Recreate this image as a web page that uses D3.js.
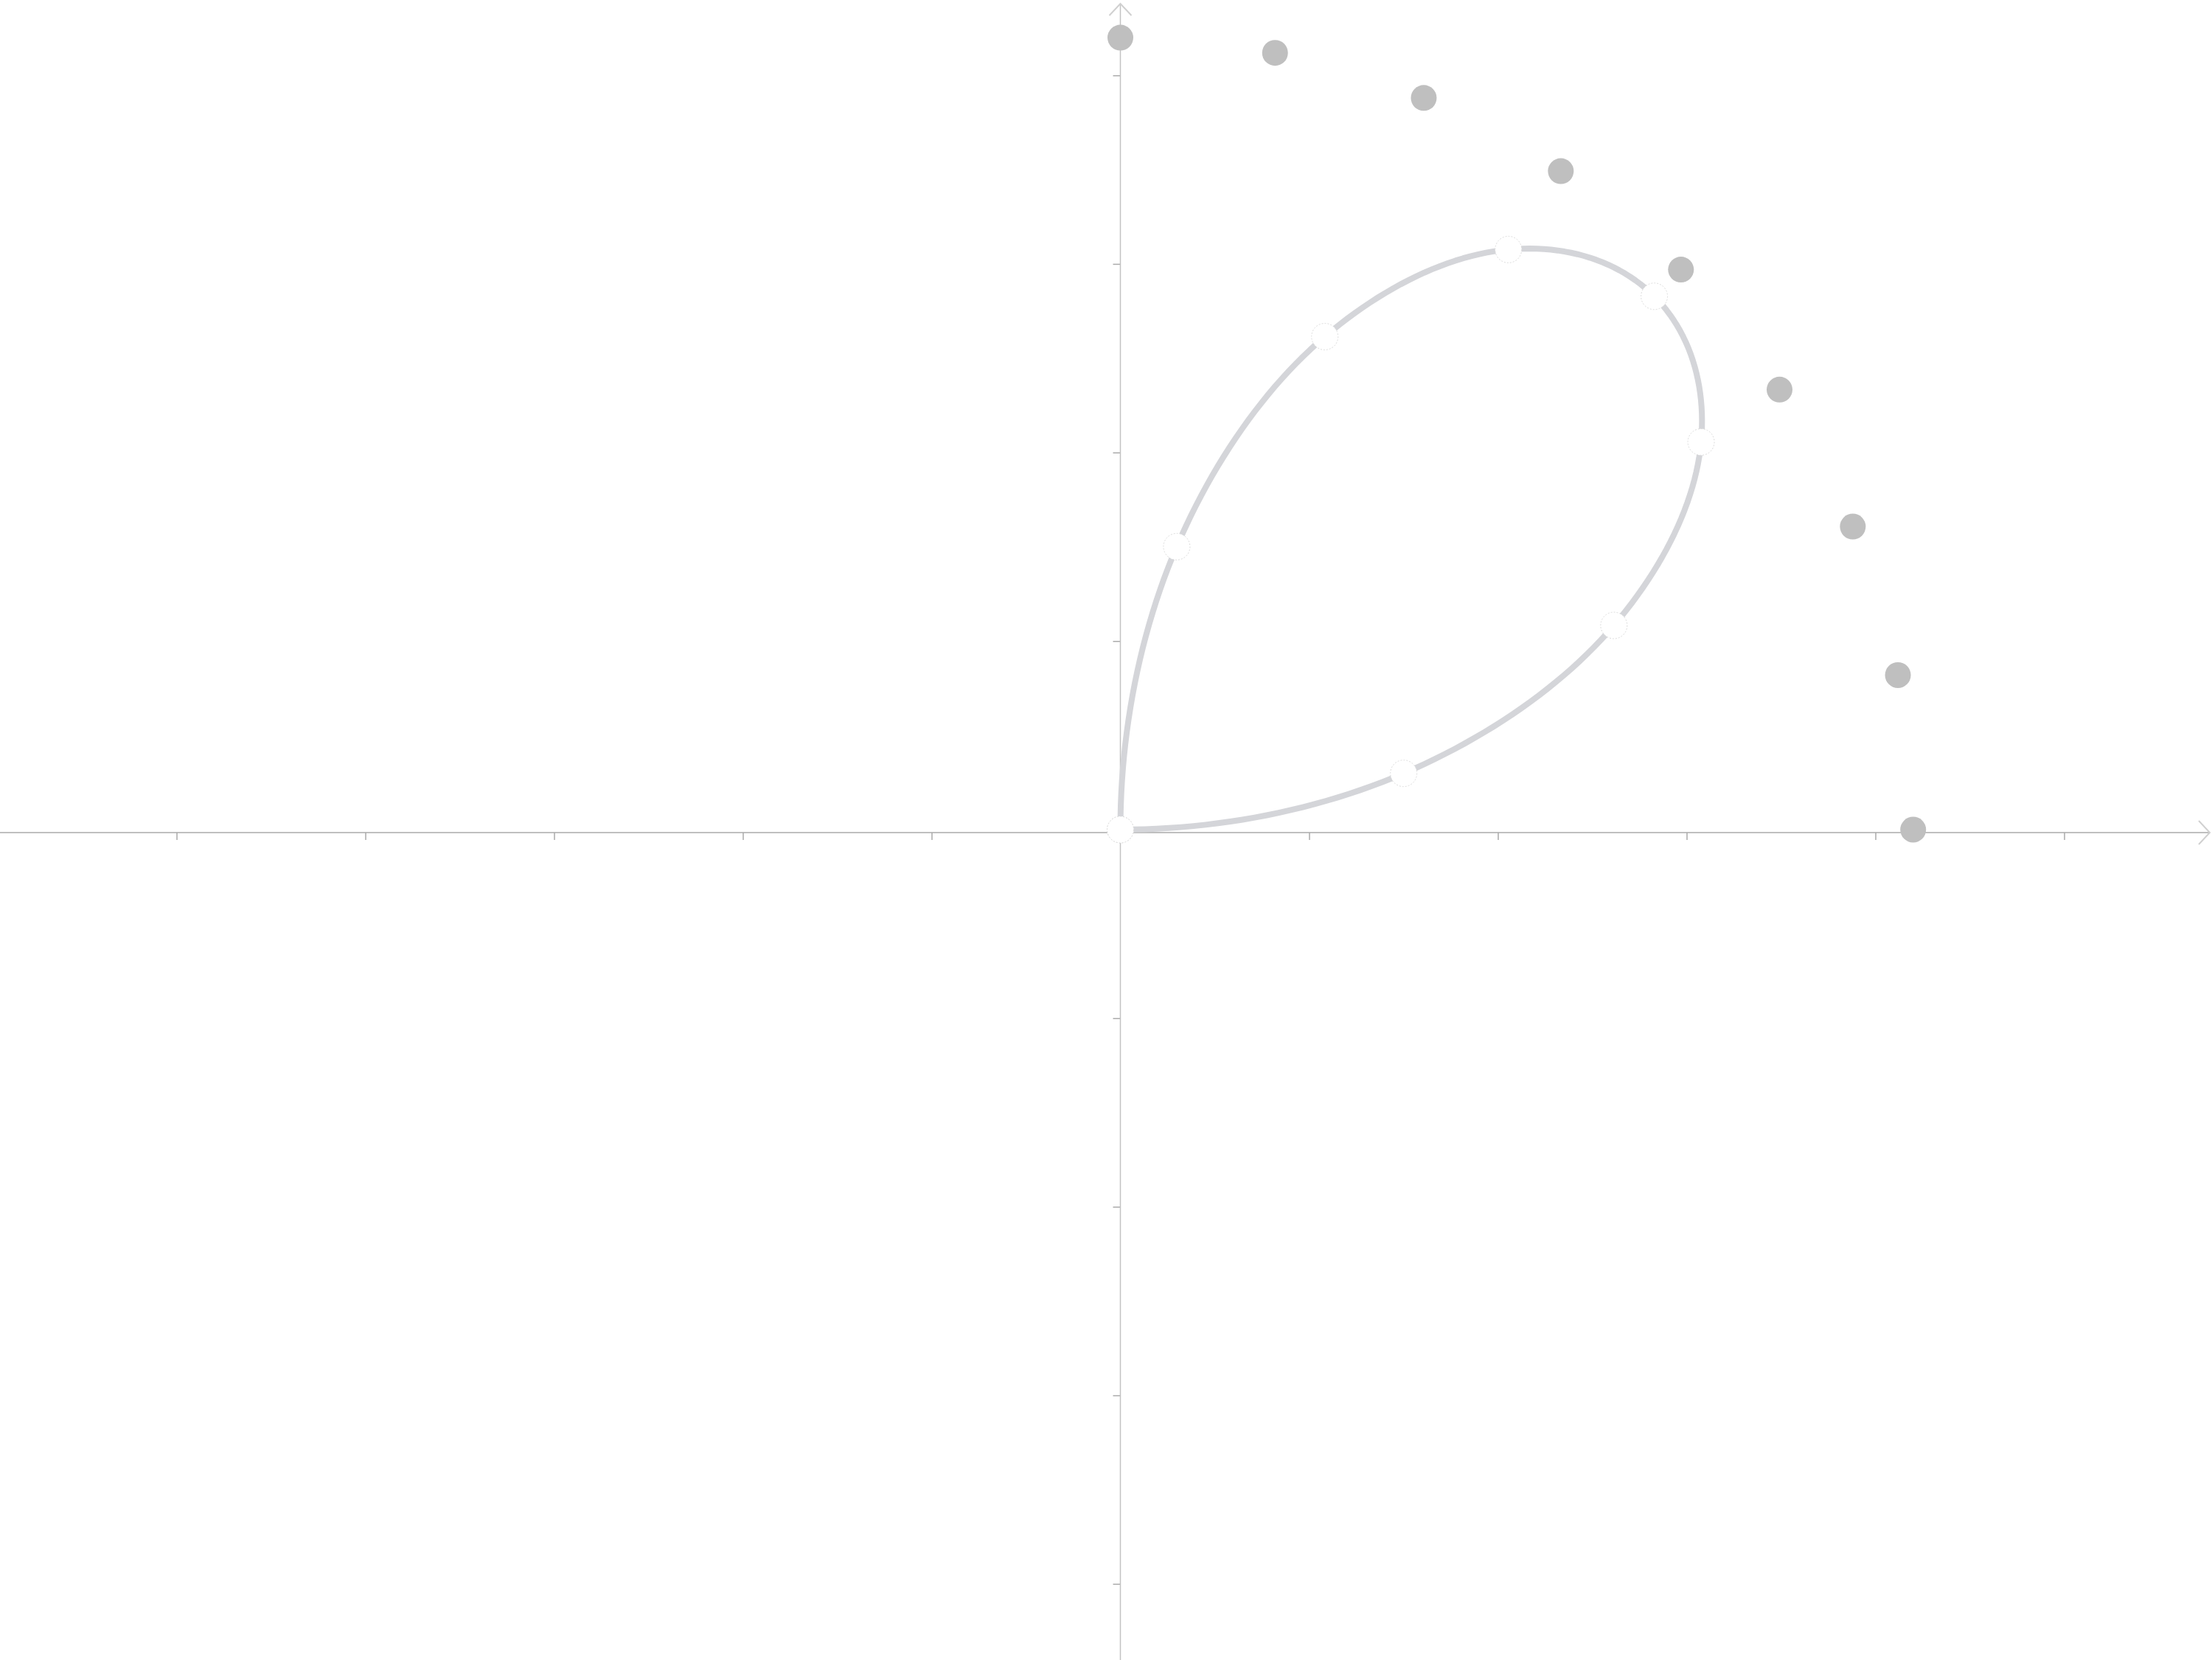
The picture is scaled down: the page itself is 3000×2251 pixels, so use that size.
<!DOCTYPE html>
<html>
<head>
<meta charset="utf-8">
<script src="https://cdn.jsdelivr.net/npm/d3@7"></script>
<style>
  html, body { margin: 0; padding: 0; background: #ffffff; }
  svg { display: block; }
</style>
</head>
<body>
<svg id="chart" width="3000" height="2251"></svg>
<script>
// ---- data ----
const anglesDeg   = [0, 11.25, 22.5, 33.75, 45, 56.25, 67.5, 78.75, 90];
const petalRadius = [0, 1.53, 2.83, 3.70, 4.0, 3.70, 2.83, 1.53, 0];
const outerRadius = [4.2, 4.2, 4.2, 4.2, 4.2, 4.2, 4.2, 4.2, 4.2];
const xTickValues = [-5, -4, -3, -2, -1, 1, 2, 3, 4, 5];
const yTickValues = [-4, -3, -2, -1, 1, 2, 3, 4];

// ---- layout ----
const W = 3000, H = 2251;
const cx = 1519.5, cy = 1125;
const ux = 256, uy = 255.7;
const x = d3.scaleLinear().domain([-6, 6]).range([cx - 6 * ux, cx + 6 * ux]);
const y = d3.scaleLinear().domain([-6, 6]).range([cy + 6 * uy, cy - 6 * uy]);

const svg = d3.select("#chart");
const axisColor = "#aaaaaa";
const axisOffset = 4; // horizontal axis line sits slightly below y = 0 in the reference

// ---- axes ----
const gx = svg.append("g")
  .attr("transform", `translate(0,${y(0) + axisOffset})`)
  .call(d3.axisBottom(x).tickValues(xTickValues).tickSize(10).tickFormat(""));
gx.select(".domain").remove();
gx.selectAll(".tick line").attr("stroke", axisColor).attr("stroke-width", 1.5);

const gy = svg.append("g")
  .attr("transform", `translate(${x(0)},0)`)
  .call(d3.axisLeft(y).tickValues(yTickValues).tickSize(10).tickFormat(""));
gy.select(".domain").remove();
gy.selectAll(".tick line").attr("stroke", axisColor).attr("stroke-width", 1.5);

// axis lines
svg.append("line")
  .attr("x1", 0).attr("x2", W - 3)
  .attr("y1", y(0) + axisOffset).attr("y2", y(0) + axisOffset)
  .attr("stroke", axisColor).attr("stroke-width", 1.5);
svg.append("line")
  .attr("x1", x(0)).attr("x2", x(0))
  .attr("y1", H).attr("y2", 5)
  .attr("stroke", "#c2c2c2").attr("stroke-width", 1.5);

// arrow heads (open chevrons)
const arrowLine = d3.line();
svg.append("path")
  .attr("d", arrowLine([[W - 18, y(0) + axisOffset - 16], [W - 3, y(0) + axisOffset], [W - 18, y(0) + axisOffset + 16]]))
  .attr("fill", "none").attr("stroke", "#d0d0d0").attr("stroke-width", 2);
svg.append("path")
  .attr("d", arrowLine([[x(0) - 15, 21], [x(0), 5], [x(0) + 15, 21]]))
  .attr("fill", "none").attr("stroke", "#d0d0d0").attr("stroke-width", 2);

// ---- data points ----
const toRad = d => d * Math.PI / 180;
const petal = anglesDeg.map((a, i) => ({ a: toRad(a), r: petalRadius[i] }));
const outer = anglesDeg.map((a, i) => ({ a: toRad(a), r: outerRadius[i] }));
const px = d => x(d.r * Math.cos(d.a));
const py = d => y(d.r * Math.sin(d.a));

// smooth petal: Catmull-Rom spline of radius vs. angle (polar smoothing of the 9 readings)
function polarSmooth(pts, steps) {
  const n = pts.length;
  const rAt = i => i < 0 ? -pts[-i].r : (i >= n ? -pts[2 * (n - 1) - i].r : pts[i].r);
  const out = [];
  for (let i = 0; i < n - 1; i++) {
    const p0 = rAt(i - 1), p1 = rAt(i), p2 = rAt(i + 1), p3 = rAt(i + 2);
    for (let s = 0; s < steps; s++) {
      const t = s / steps;
      const r = 0.5 * (2 * p1 + (-p0 + p2) * t + (2 * p0 - 5 * p1 + 4 * p2 - p3) * t * t
                + (-p0 + 3 * p1 - 3 * p2 + p3) * t * t * t);
      out.push({ a: pts[i].a + (pts[i + 1].a - pts[i].a) * t, r: r });
    }
  }
  out.push(pts[n - 1]);
  return out;
}

const curve = d3.line().x(px).y(py).curve(d3.curveLinear);
svg.append("path")
  .datum(polarSmooth(petal, 24))
  .attr("d", curve)
  .attr("fill", "none")
  .attr("stroke", "#d4d5d9")
  .attr("stroke-width", 8)
  .attr("stroke-linejoin", "round");

// outer gray dots
svg.append("g").selectAll("circle")
  .data(outer)
  .join("circle")
  .attr("cx", px).attr("cy", py)
  .attr("r", 17.5)
  .attr("fill", "#bfbfbf");

// white dots on the petal
svg.append("g").selectAll("circle")
  .data(petal)
  .join("circle")
  .attr("cx", px).attr("cy", py)
  .attr("r", 18)
  .attr("fill", "#ffffff")
  .attr("stroke", "#dcdcdc")
  .attr("stroke-width", 1)
  .attr("stroke-dasharray", "2,2");
</script>
</body>
</html>
